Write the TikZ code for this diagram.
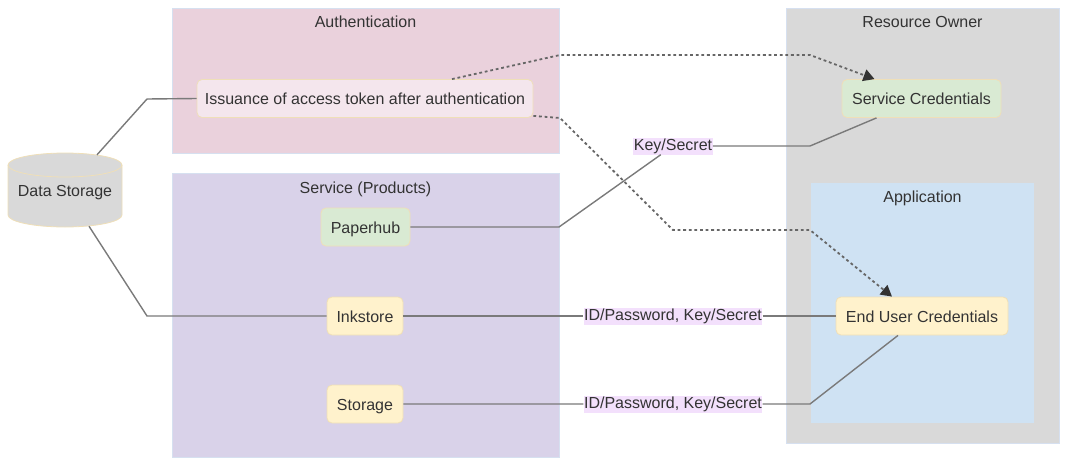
\documentclass[tikz,border=0pt]{standalone}
\usepackage{fontspec}
\setmainfont{Liberation Sans}
\usetikzlibrary{arrows.meta}
\definecolor{authfill}{HTML}{EAD1DC}
\definecolor{servfill}{HTML}{D9D2E9}
\definecolor{ownerfill}{HTML}{D9D9D9}
\definecolor{appfill}{HTML}{CFE2F3}
\definecolor{greenfill}{HTML}{D9EAD3}
\definecolor{yellowfill}{HTML}{FFF2CC}
\definecolor{pinkfill}{HTML}{F4E6ED}
\definecolor{nodeline}{HTML}{EFDFB8}
\definecolor{groupline}{HTML}{D6E0F0}
\definecolor{edgegray}{HTML}{7A7A7A}
\definecolor{dotgray}{HTML}{666666}
\definecolor{labelfill}{HTML}{F3E0FC}
\definecolor{txt}{HTML}{333333}
\begin{document}
\begin{tikzpicture}[x=1pt,y=1pt,
    every node/.style={font=\fontsize{16}{19}\selectfont, text=txt},
    group/.style={draw=groupline, line width=0.8pt, inner sep=0pt},
    grouptitle/.style={inner sep=0pt, text height=13.5pt, text depth=1.5pt},
    box/.style={draw=nodeline, line width=0.8pt, rounded corners=5pt, minimum height=38pt, inner xsep=0pt,
      text height=13.5pt, text depth=1.5pt},
    lbl/.style={fill=labelfill, inner xsep=0.5pt, inner ysep=1pt, text height=11.5pt, text depth=3.5pt},
    edge/.style={draw=edgegray, line width=1.4pt},
    flow/.style={draw=dotgray, line width=1.8pt, dash pattern=on 2.8pt off 2.8pt,
      -{Triangle[length=11pt, width=12pt, color=txt]}}]
  \useasboundingbox (0,0) rectangle (1067,-466);
  \node[group, fill=authfill, minimum width=387pt, minimum height=145pt] (auth) at (365.5,-80.5) {};
  \node[group, fill=servfill, minimum width=387pt, minimum height=284pt] (serv) at (365.5,-315) {};
  \node[group, fill=ownerfill, minimum width=273pt, minimum height=435pt] (owner) at (922.5,-225.5) {};
  \node[group, fill=appfill, draw=none, minimum width=223pt, minimum height=240pt] (app) at (922.5,-303) {};
  \node[grouptitle] (authtitle) at ([yshift=-14pt]auth.north) {Authentication};
  \node[grouptitle] (servtitle) at ([yshift=-15pt]serv.north) {Service (Products)};
  \node[grouptitle] (ownertitle) at ([yshift=-14pt]owner.north) {Resource Owner};
  \node[grouptitle] (apptitle) at ([yshift=-14pt]app.north) {Application};

  \path[fill=ownerfill, draw=nodeline, line width=0.8pt] (8,-165) -- (8,-215)
    arc[start angle=180, end angle=360, x radius=57pt, y radius=12pt] -- (122,-165)
    arc[start angle=0, end angle=180, x radius=57pt, y radius=12pt] -- cycle;
  \draw[nodeline, line width=0.8pt] (8,-165) arc[start angle=180, end angle=360, x radius=57pt, y radius=12pt];
  \node[minimum width=114pt, minimum height=74pt, inner sep=0pt, text height=13.5pt, text depth=1.5pt] (store) at (65,-190) {Data Storage};

  \node[box, fill=pinkfill, minimum width=336pt] (issue) at (365,-98.5) {Issuance of access token after authentication};
  \node[box, fill=greenfill, minimum width=89pt] (paper) at (365.5,-227) {Paperhub};
  \node[box, fill=yellowfill, minimum width=76pt] (ink) at (365,-316) {Inkstore};
  \node[box, fill=yellowfill, minimum width=76pt] (disk) at (365,-404) {Storage};
  \node[box, fill=greenfill, minimum width=159pt] (svccred) at (921.5,-98.5) {Service Credentials};
  \node[box, fill=yellowfill, minimum width=172pt] (usercred) at (922,-316) {End User Credentials};

  \node[lbl] (keylbl) at (673,-146) {Key/Secret};
  \node[lbl] (idlbl) at (673,-316) {ID/Password, Key/Secret};
  \node[lbl] (diskidlbl) at (673,-404) {ID/Password, Key/Secret};

  \draw[edge] ([xshift=32pt,yshift=-2pt]store.north) -- (147,-99) -- (issue.west);
  \draw[edge] ([xshift=24pt,yshift=1pt]store.south) -- (147,-316) -- (ink.west);
  \draw[edge] (paper.east) -- (559,-227) -- (keylbl) -- (810,-146) -- ([xshift=-45pt]svccred.south);
  \draw[edge] (ink.east) -- (idlbl) -- (usercred.west);
  \draw[edge] (disk.east) -- (diskidlbl) -- (810,-404) -- ([xshift=-24pt]usercred.south);
  \draw[flow] ([xshift=87pt]issue.north) -- (560,-55) -- (810,-55) -- ([xshift=-47pt]svccred.north);
  \draw[flow] ([yshift=2pt]issue.south east) -- (560,-118) -- (673,-230) -- (810,-230) -- ([xshift=-30pt]usercred.north);
\end{tikzpicture}
\end{document}
